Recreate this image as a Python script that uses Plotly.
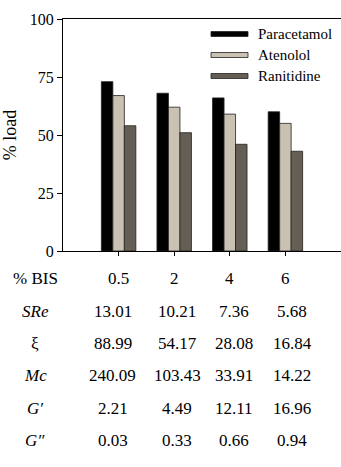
import plotly.graph_objects as go

categories = [0, 1, 2, 3]
series_names = ["Paracetamol", "Atenolol", "Ranitidine"]
paracetamol = [73, 68, 66, 60]
atenolol = [67, 62, 59, 55]
ranitidine = [54, 51, 46, 43]
colors = ["#000000", "#c9c1b1", "#655e55"]

y_ticks = [0, 25, 50, 75, 100]

row_labels = ["% BIS", "<i>SRe</i>", "ξ", "<i>Mc</i>", "<i>G′</i>", "<i>G″</i>"]
table_rows = [
    ["0.5", "2", "4", "6"],
    ["13.01", "10.21", "7.36", "5.68"],
    ["88.99", "54.17", "28.08", "16.84"],
    ["240.09", "103.43", "33.91", "14.22"],
    ["2.21", "4.49", "12.11", "16.96"],
    ["0.03", "0.33", "0.66", "0.94"],
]
row_y = [278, 311, 343, 375, 408, 440]
col_shift_num = [-6, 3, 4, 7]

W, H = 341, 467
L, R, T, B = 63, 0, 19, 216
font = "Liberation Serif, Tinos, 'Times New Roman', Times, 'DejaVu Serif', serif"

fig = go.Figure()
for name, vals, c in zip(series_names, [paracetamol, atenolol, ranitidine], colors):
    fig.add_trace(go.Bar(x=categories, y=vals, name=name, marker_color=c,
                         marker_line_color="#222222", marker_line_width=0.8,
                         showlegend=False))

plot_h = H - T - B
plot_w = W - L - R
def ypaper(px):
    return 1 - (px - T) / plot_h
def xpaper(px):
    return (px - L) / plot_w

annotations = []
for i, (lab, row) in enumerate(zip(row_labels, table_rows)):
    yp = ypaper(row_y[i])
    annotations.append(dict(text=lab, x=xpaper(35), xref="paper", y=yp, yref="paper",
                            showarrow=False, xanchor="center", yanchor="middle",
                            font=dict(size=17, family=font, color="#000")))
    for j, v in enumerate(row):
        annotations.append(dict(text=v, x=categories[j], xref="x", y=yp, yref="paper",
                                xshift=0 if i == 0 else col_shift_num[j],
                                showarrow=False, xanchor="center", yanchor="middle",
                                font=dict(size=17, family=font, color="#000")))

# legend drawn as wide flat swatches
shapes = []
leg_y = [34, 55, 76]
for name, c, yy in zip(series_names, colors, leg_y):
    shapes.append(dict(type="rect", xref="paper", yref="paper",
                       x0=xpaper(211), x1=xpaper(248),
                       y0=ypaper(yy + 2.5), y1=ypaper(yy - 2.5),
                       fillcolor=c, line=dict(color="#222222", width=0.8)))
    annotations.append(dict(text=name, x=xpaper(256), xref="paper", y=ypaper(yy), yref="paper",
                            showarrow=False, xanchor="left", yanchor="middle",
                            font=dict(size=15, family=font, color="#000")))

fig.update_layout(
    width=W, height=H, margin=dict(l=L, r=R, t=T, b=B),
    paper_bgcolor="white", plot_bgcolor="white",
    barmode="group", bargap=0.38, bargroupgap=0,
    annotations=annotations, shapes=shapes,
    font=dict(family=font, color="#000"),
    xaxis=dict(range=[-1, 4], tickvals=categories, ticktext=["", "", "", ""],
               ticks="outside", ticklen=4, tickcolor="#000", showline=True,
               linecolor="#000", linewidth=1, mirror=True, showgrid=False, zeroline=False),
    yaxis=dict(range=[0, 100], tickvals=y_ticks, ticks="outside", ticklen=5,
               tickcolor="#000", showline=True, linecolor="#000", linewidth=1,
               showgrid=False, zeroline=False, tickfont=dict(size=16, family=font, color="#000"),
               title=dict(text="% load", font=dict(size=18, family=font, color="#000"), standoff=10)),
)

fig.write_html("out.html")
